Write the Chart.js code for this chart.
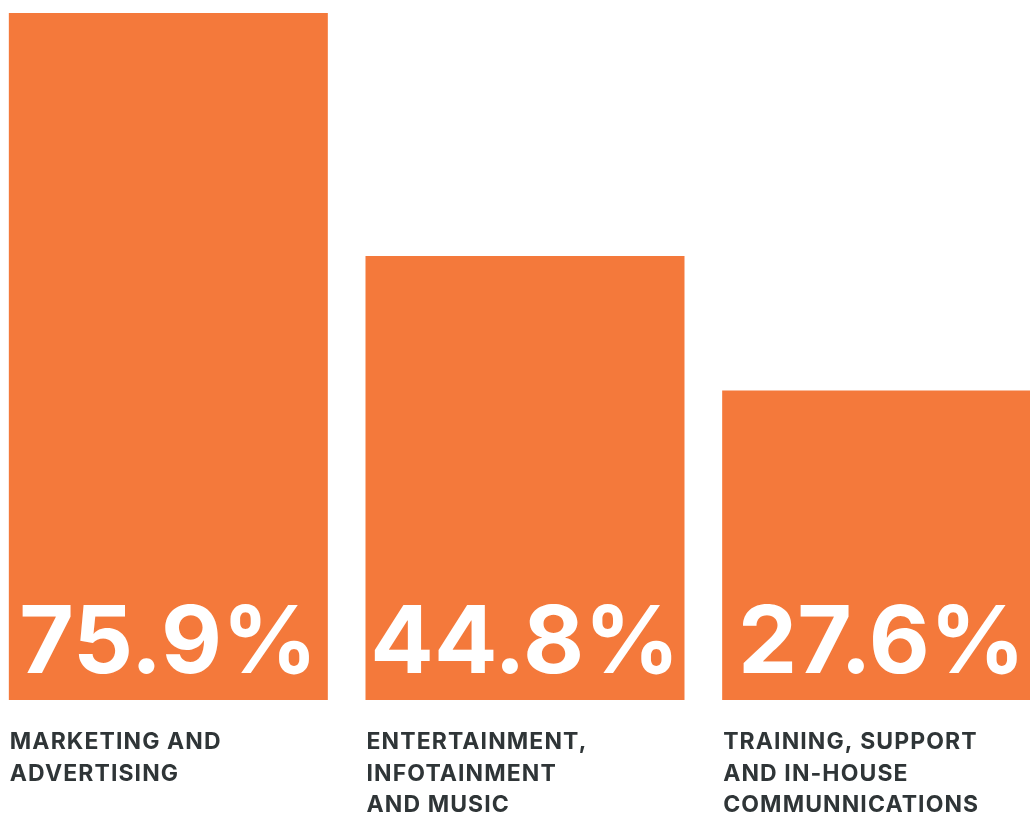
<!DOCTYPE html>
<html>
<head>
<meta charset="utf-8">
<script src="https://cdn.jsdelivr.net/npm/chart.js@4/dist/chart.umd.min.js"></script>
<style>
  html, body { margin: 0; padding: 0; background: #ffffff; overflow: hidden; }
  #wrap { position: absolute; left: -10px; top: 0; width: 1070px; height: 814px; }
</style>
</head>
<body>
<div id="wrap"><canvas id="chart" width="1070" height="814"></canvas></div>
<script>
// Share of respondents by use case (%)
const categories = ['Marketing and advertising', 'Entertainment, infotainment and music', 'Training, support and in-house communnications'];
const categoryLines = [
  ['MARKETING AND', 'ADVERTISING'],
  ['ENTERTAINMENT,', 'INFOTAINMENT', 'AND MUSIC'],
  ['TRAINING, SUPPORT', 'AND IN-HOUSE', 'COMMUNNICATIONS']
];
const shares = [75.9, 44.8, 27.6];
const valueLabels = ['75.9%', '44.8%', '27.6%'];
const axisMin = -12;
const axisMax = 75.9;

const ORANGE = '#f4793b';
const TEXT_DARK = '#2f3537';

// Writes the big value inside each bar and the caption under it
const barText = {
  id: 'barText',
  afterDatasetsDraw(chart) {
    const ctx = chart.ctx;
    const bottom = chart.chartArea.bottom;
    const bars = chart.getDatasetMeta(0).data;
    ctx.save();
    bars.forEach((bar, i) => {
      const left = bar.x - bar.width / 2;
      ctx.fillStyle = '#ffffff';
      ctx.letterSpacing = '0px';
      ctx.font = '700 94px Inter, "Open Sans", sans-serif';
      ctx.textAlign = 'center';
      ctx.textBaseline = 'alphabetic';
      ctx.fillText(valueLabels[i], bar.x, bottom - 27);

      ctx.fillStyle = TEXT_DARK;
      ctx.letterSpacing = '1.1px';
      ctx.font = '700 23px Inter, "Open Sans", sans-serif';
      ctx.textAlign = 'left';
      categoryLines[i].forEach((line, j) => {
        ctx.fillText(line, left + 1, bottom + 49 + j * 31.5);
      });
    });
    ctx.restore();
  }
};

new Chart(document.getElementById('chart'), {
  type: 'bar',
  data: {
    labels: categories,
    datasets: [{
      data: shares,
      base: axisMin,
      backgroundColor: ORANGE,
      borderWidth: 0,
      barPercentage: 319 / 356.67,
      categoryPercentage: 1
    }]
  },
  options: {
    responsive: false,
    animation: false,
    layout: { padding: { top: 13, bottom: 114, left: 0, right: 0 } },
    plugins: { legend: { display: false }, tooltip: { enabled: false } },
    scales: {
      x: { display: false },
      y: { display: false, min: axisMin, max: axisMax }
    }
  },
  plugins: [barText]
});
</script>
</body>
</html>
